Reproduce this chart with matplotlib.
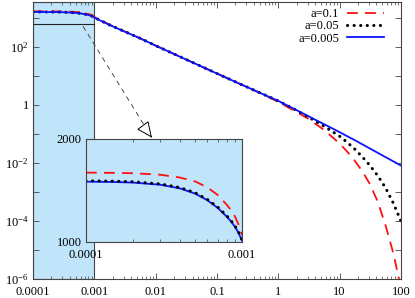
import matplotlib
matplotlib.use("Agg")
import matplotlib.pyplot as plt
from matplotlib.ticker import FixedLocator, NullFormatter, LogLocator

plt.rcParams['font.family'] = ['Liberation Serif', 'DejaVu Serif']
plt.rcParams['mathtext.fontset'] = 'custom'
plt.rcParams['mathtext.rm'] = 'Liberation Serif'

# grid shared by the three curves
x = [1e-4, 1.5e-4, 2e-4, 3e-4, 4e-4, 5e-4, 6e-4, 7e-4, 8e-4, 8.5e-4, 9e-4, 9.5e-4,
     1e-3, 1.78e-3, 3.16e-3, 5.62e-3, 1e-2, 1.78e-2, 3.16e-2, 5.62e-2,
     0.1, 0.178, 0.316, 0.562, 1, 1.78, 3.16, 5.62,
     10, 13.3, 17.8, 23.7, 31.6, 42.2, 56.2, 75.0, 100]

y_a01 = [1673, 1670, 1667, 1652, 1625, 1588, 1530, 1455, 1360, 1310, 1250, 1170,
         1075, 575, 333, 195, 110, 63.1, 36.3, 20.9,
         12.0, 6.92, 4.0, 2.29, 1.26, 0.646, 0.324, 0.135,
         0.0468, 0.0245, 0.0117, 0.00501, 0.00178, 4.47e-4, 7.08e-5, 7.94e-6, 5.0e-7]

y_a005 = [1593, 1590, 1584, 1563, 1528, 1478, 1413, 1338, 1253, 1208, 1158, 1098,
          1022, 565, 333, 196, 110, 63.2, 36.4, 20.9,
          12.0, 6.93, 4.03, 2.34, 1.37, 0.733, 0.372, 0.182,
          0.0832, 0.0513, 0.0295, 0.0158, 0.00794, 0.00355, 0.00138, 4.17e-4, 1.0e-4]

y_a0005 = [1585, 1582, 1576, 1555, 1520, 1470, 1405, 1330, 1245, 1200, 1150, 1090,
           1014, 562, 331, 195, 110, 63.1, 36.3, 20.9,
           12.0, 6.92, 4.03, 2.34, 1.37, 0.741, 0.398, 0.214,
           0.115, 0.0832, 0.0603, 0.0432, 0.0309, 0.0221, 0.0158, 0.01135, 0.00813]

labels = ['a=0.1', 'a=0.05', 'a=0.005']

x_ticks = [1e-4, 1e-3, 1e-2, 1e-1, 1, 10, 100]
x_ticklabels = ['0.0001', '0.001', '0.01', '0.1', '1', '10', '100']
y_ticks = [1e-6, 1e-5, 1e-4, 1e-3, 1e-2, 1e-1, 1, 10, 100, 1000]
y_ticklabels = [r'$\mathregular{10^{-6}}$', '', r'$\mathregular{10^{-4}}$', '',
                r'$\mathregular{10^{-2}}$', '', '1', '', r'$\mathregular{10^{2}}$', '']

inset_xlim = [1e-4, 1e-3]
inset_ylim = [1000, 2000]
box_floor = 600
arrow_start = (6.55e-4, 511)
arrow_end = (8.7e-3, 0.074)

shade = '#c0e4fa'
frame = '#444444'

fig = plt.figure(figsize=(4.15, 2.98), dpi=100)
ax = fig.add_axes([0.0795, 0.0638, 0.8865, 0.9295])

ax.axvspan(inset_xlim[0], inset_xlim[1], facecolor=shade, edgecolor=frame, lw=0.8, zorder=0)
ax.plot(inset_xlim, [box_floor, box_floor], color='#222222', lw=0.8)
ax.plot([arrow_start[0], arrow_end[0]], [arrow_start[1], arrow_end[1]],
        color='#333333', lw=0.6, ls=(0, (6, 5)))
ax.annotate('', xy=arrow_end, xytext=(arrow_end[0] / 1.25, arrow_end[1] * 1.9),
            arrowprops=dict(arrowstyle='-|>,head_length=1.0,head_width=0.45',
                            fc='white', ec='black', lw=0.7, shrinkA=0, shrinkB=0))

ax.plot(x, y_a01, color='#ff1010', lw=1.3, ls=(0, (6, 4)), label=labels[0])
ax.plot(x, y_a005, color='black', lw=2.2, ls=(0, (0.05, 2.1)),
        dash_capstyle='round', label=labels[1])
ax.plot(x, y_a0005, color='#0a14ff', lw=1.3, label=labels[2])

ax.set_xscale('log')
ax.set_yscale('log')
ax.set_xlim(1e-4, 100)
ax.set_ylim(1e-6, 3500)
ax.set_xticks(x_ticks)
ax.set_xticklabels(x_ticklabels)
ax.xaxis.set_minor_locator(LogLocator(base=10, subs=range(2, 10), numticks=20))
ax.xaxis.set_minor_formatter(NullFormatter())
ax.yaxis.set_major_locator(FixedLocator(y_ticks))
ax.set_yticklabels(y_ticklabels)
ax.yaxis.set_minor_locator(FixedLocator([]))
ax.tick_params(which='both', direction='in', top=True, right=True, labelsize=9,
               color=frame, pad=3)
ax.tick_params(axis='x', pad=5)
ax.tick_params(which='major', length=4, width=0.6)
ax.tick_params(which='minor', length=2, width=0.5)
for s in ax.spines.values():
    s.set_color(frame)
    s.set_linewidth(0.8)

ax.legend(loc='upper right', bbox_to_anchor=(0.975, 1.005), frameon=False,
          markerfirst=False, fontsize=9, handlelength=3.0, handletextpad=0.6,
          labelspacing=0.02, borderaxespad=0.2)

# inset
axi = fig.add_axes([0.207, 0.188, 0.376, 0.346])
axi.set_facecolor(shade)
axi.plot(x, y_a01, color='#ff1010', lw=1.3, ls=(0, (6, 4)))
axi.plot(x, y_a0005, color='#0a14ff', lw=1.3)
axi.plot(x, y_a005, color='black', lw=2.2, ls=(0, (0.05, 2.1)), dash_capstyle='round')
axi.set_xscale('log')
axi.set_xlim(inset_xlim)
axi.set_ylim(inset_ylim)
axi.set_xticks(inset_xlim)
axi.set_xticklabels(['0.0001', '0.001'])
axi.xaxis.set_minor_locator(LogLocator(base=10, subs=range(2, 10), numticks=20))
axi.xaxis.set_minor_formatter(NullFormatter())
axi.set_yticks(inset_ylim)
axi.set_yticklabels(['1000', '2000'])
axi.tick_params(which='both', direction='in', top=True, right=True, labelsize=9,
                color=frame, pad=3)
axi.tick_params(axis='x', pad=5)
axi.tick_params(which='major', length=4, width=0.6)
axi.tick_params(which='minor', length=2, width=0.5)
for s in axi.spines.values():
    s.set_color(frame)
    s.set_linewidth(0.8)

fig.savefig('out.png', dpi=100)
